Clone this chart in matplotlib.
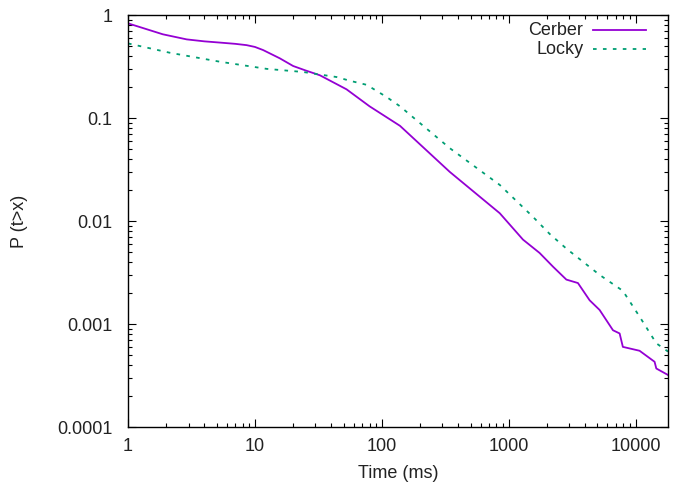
import matplotlib.pyplot as plt
from matplotlib.lines import Line2D
from matplotlib.ticker import FixedLocator, LogLocator, NullFormatter

plt.rcParams['font.family'] = ['Liberation Sans', 'DejaVu Sans']

# CCDF of response time
cerber_t = [1, 1.3, 1.88, 2.9, 4.0, 5.3, 7.0, 8.6, 10, 11.6, 15.7, 20, 25,
            32.5, 52.7, 80, 139, 343, 850, 1295, 1750, 2235, 2845, 3510, 4340,
            5200, 6630, 7480, 7930, 10740, 14100, 14550, 18000]
cerber_p = [0.83, 0.75, 0.65, 0.58, 0.555, 0.54, 0.525, 0.51, 0.49, 0.457,
            0.38, 0.32, 0.29, 0.26, 0.19, 0.13, 0.084, 0.030, 0.0119, 0.0066,
            0.0049, 0.0036, 0.0027, 0.0025, 0.0017, 0.00137, 0.00087, 0.00081,
            0.0006, 0.00055, 0.00043, 0.00037, 0.00032]

locky_t = [1, 2.14, 5.3, 12.4, 23.9, 44, 56, 76, 109, 139, 343, 850, 1550,
           2100, 2845, 5200, 7930, 10740, 14550, 18000]
locky_p = [0.53, 0.43, 0.352, 0.30, 0.28, 0.25, 0.23, 0.21, 0.16, 0.13, 0.051,
           0.0224, 0.011, 0.0075, 0.0054, 0.0030, 0.0021, 0.00118, 0.00065,
           0.00054]

xticks = [1, 10, 100, 1000, 10000]
xtick_labels = ['1', '10', '100', '1000', '10000']
yticks = [0.0001, 0.001, 0.01, 0.1, 1]
ytick_labels = ['0.0001', '0.001', '0.01', '0.1', '1']

purple = '#9400d3'
green = '#009e73'

fig = plt.figure(figsize=(6.78, 4.83), dpi=100)
ax = fig.add_axes([0.1888, 0.1159, 0.7965, 0.853])

ax.plot(cerber_t, cerber_p, color=purple, lw=1.3)
ax.plot(locky_t, locky_p, color=green, lw=1.3, dashes=(2, 3.5))

ax.set_xscale('log')
ax.set_yscale('log')
ax.set_xlim(1, 18000)
ax.set_ylim(0.0001, 1)

ax.xaxis.set_major_locator(FixedLocator(xticks))
ax.set_xticklabels(xtick_labels)
ax.yaxis.set_major_locator(FixedLocator(yticks))
ax.set_yticklabels(ytick_labels)
ax.xaxis.set_minor_locator(LogLocator(base=10, subs=range(2, 10), numticks=20))
ax.yaxis.set_minor_locator(LogLocator(base=10, subs=range(2, 10), numticks=20))
ax.xaxis.set_minor_formatter(NullFormatter())
ax.yaxis.set_minor_formatter(NullFormatter())

ax.tick_params(which='both', direction='in', top=True, right=True,
               labelsize=13, width=0.8, labelcolor='#222222')
ax.tick_params(axis='x', which='major', pad=8)
ax.tick_params(axis='y', which='major', pad=11)
ax.tick_params(which='major', length=6)
ax.tick_params(which='minor', length=3)
for s in ax.spines.values():
    s.set_linewidth(1.0)

ax.set_xlabel('Time (ms)', fontsize=13, labelpad=7, color='#222222')
ax.set_ylabel('P (t>x)', fontsize=13, labelpad=21, color='#222222')

# gnuplot style key: right aligned text, sample on the right
key = [('Cerber', purple, None, 0.9636), ('Locky', green, (2, 3.5), 0.9175)]
for label, col, dash, yk in key:
    ax.text(0.843, yk, label, transform=ax.transAxes, ha='right', va='center',
            fontsize=13, color='#222222')
    ln = Line2D([0.861, 0.959], [yk, yk], transform=ax.transAxes, color=col,
                lw=1.3)
    if dash:
        ln.set_dashes(dash)
    ax.add_line(ln)

fig.savefig('out.png', dpi=100)
